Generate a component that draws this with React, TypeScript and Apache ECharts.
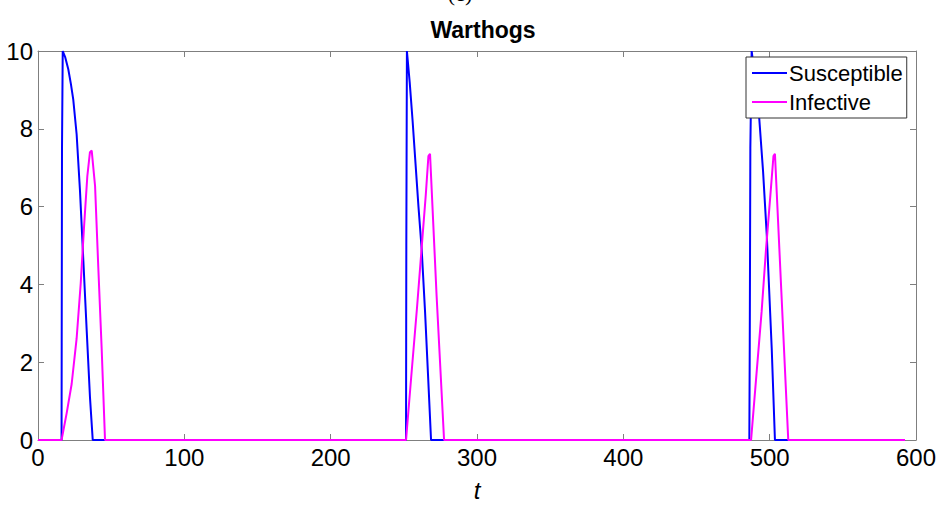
import React, { useEffect, useRef } from "react";
import * as echarts from "echarts";

// Tick values
const xTicks = [0, 100, 200, 300, 400, 500, 600];
const yTicks = [0, 2, 4, 6, 8, 10];

// Series: [t, value] pairs
const susceptible: number[][] = [
  [0, 0], [16.1, 0], [16.2, 2.5], [16.4, 7.5], [16.9, 10], [18.5, 9.85], [20.7, 9.53], [22.5, 9.15],
  [24.1, 8.75], [26.4, 7.86], [28.7, 6.4], [31.0, 4.6], [33.3, 2.8], [35.5, 1.11], [37.4, 0],
  [251.5, 0], [251.6, 2.5], [251.7, 5.0], [252.1, 10], [254, 9.2], [256, 8.2], [258, 7.1],
  [260, 6.0], [262.2, 4.9], [264.5, 3.3], [266.5, 1.7], [268.6, 0],
  [486.1, 0], [486.4, 2.5], [486.8, 7.5], [487.7, 10], [490, 9.3], [492.7, 8.36], [495.5, 6.9],
  [498, 5.28], [501.4, 2.36], [503.6, 0], [592.5, 0],
];

const infective: number[][] = [
  [0, 0], [16.1, 0], [19.6, 0.69], [23.0, 1.44], [26.4, 2.61], [29.2, 4.03], [31.4, 5.44],
  [33.7, 6.78], [35.5, 7.4], [36.7, 7.44], [39, 6.53], [41.2, 4.44], [43.5, 2.36], [45.8, 0],
  [251.5, 0], [255, 1.6], [259, 3.4], [262.2, 4.95], [265, 6.3], [266.8, 7.3], [267.9, 7.36],
  [272.4, 3.7], [277.5, 0],
  [487.3, 0], [491, 1.7], [494.5, 3.3], [497.5, 4.9], [500.5, 6.3], [502.6, 7.3], [503.6, 7.36],
  [508, 3.8], [512.7, 0], [592.5, 0],
];

const FONT = "'Liberation Sans', Arial, Helvetica, sans-serif";

export default function App() {
  const ref = useRef<HTMLDivElement>(null);
  useEffect(() => {
    if (!ref.current) return;
    const chart = echarts.init(ref.current, null, { renderer: "svg" });
    const axisColor = "#7f7f7f";
    const baseX = {
      type: "value" as const,
      min: xTicks[0],
      max: xTicks[xTicks.length - 1],
      interval: xTicks[1] - xTicks[0],
      splitLine: { show: false },
      axisLine: { show: true, onZero: false, lineStyle: { color: axisColor, width: 1 } },
      axisTick: { show: true, inside: true, length: 6, lineStyle: { color: axisColor } },
    };
    const baseY = {
      type: "value" as const,
      min: yTicks[0],
      max: yTicks[yTicks.length - 1],
      interval: yTicks[1] - yTicks[0],
      splitLine: { show: false },
      axisLine: { show: true, onZero: false, lineStyle: { color: axisColor, width: 1 } },
      axisTick: { show: true, inside: true, length: 6, lineStyle: { color: axisColor } },
    };
    chart.setOption({
      animation: false,
      backgroundColor: "#ffffff",
      textStyle: { fontFamily: FONT },
      title: {
        text: "Warthogs",
        left: 478,
        top: 13,
        textAlign: "center",
        textStyle: { fontFamily: FONT, fontSize: 23, fontWeight: "bold", color: "#000" },
      },
      graphic: [
        {
          type: "text",
          x: 460,
          y: 4,
          style: {
            text: "(c)",
            font: "22px 'Liberation Serif', serif",
            fill: "#000",
            textAlign: "center",
            textVerticalAlign: "bottom",
          },
        },
      ],
      legend: {
        left: 746,
        top: 57,
        orient: "vertical",
        backgroundColor: "#fff",
        borderColor: "#333",
        borderWidth: 1,
        borderRadius: 0,
        padding: [4, 4, 4, 6],
        icon: "rect",
        itemWidth: 35,
        itemHeight: 2,
        itemGap: 5,
        textStyle: { fontFamily: FONT, fontSize: 22, color: "#000", lineHeight: 24, padding: [0, 0, 0, -3] },
        data: ["Susceptible", "Infective"],
      },
      grid: { left: 38, right: 25, top: 51, bottom: 56, containLabel: false },
      xAxis: [
        {
          ...baseX,
          position: "bottom",
          axisLabel: { fontFamily: FONT, fontSize: 24, color: "#000", margin: 5 },
          name: "t",
          nameLocation: "middle",
          nameGap: 38,
          nameTextStyle: { fontFamily: FONT, fontSize: 24, fontStyle: "italic", color: "#000" },
        },
        { ...baseX, position: "top", axisLabel: { show: false } },
      ],
      yAxis: [
        {
          ...baseY,
          position: "left",
          axisLabel: { fontFamily: FONT, fontSize: 24, color: "#000", margin: 5 },
        },
        { ...baseY, position: "right", axisLabel: { show: false } },
      ],
      series: [
        {
          name: "Susceptible",
          type: "line",
          data: susceptible,
          symbol: "none",
          lineStyle: { color: "#0000ff", width: 2 },
          itemStyle: { color: "#0000ff" },
          z: 2,
        },
        {
          name: "Infective",
          type: "line",
          data: infective,
          symbol: "none",
          lineStyle: { color: "#ff00ff", width: 2 },
          itemStyle: { color: "#ff00ff" },
          z: 3,
        },
      ],
    });
    return () => chart.dispose();
  }, []);
  return (
    <div
      ref={ref}
      style={{ position: "fixed", left: 0, top: 0, width: 941, height: 507 }}
    />
  );
}
